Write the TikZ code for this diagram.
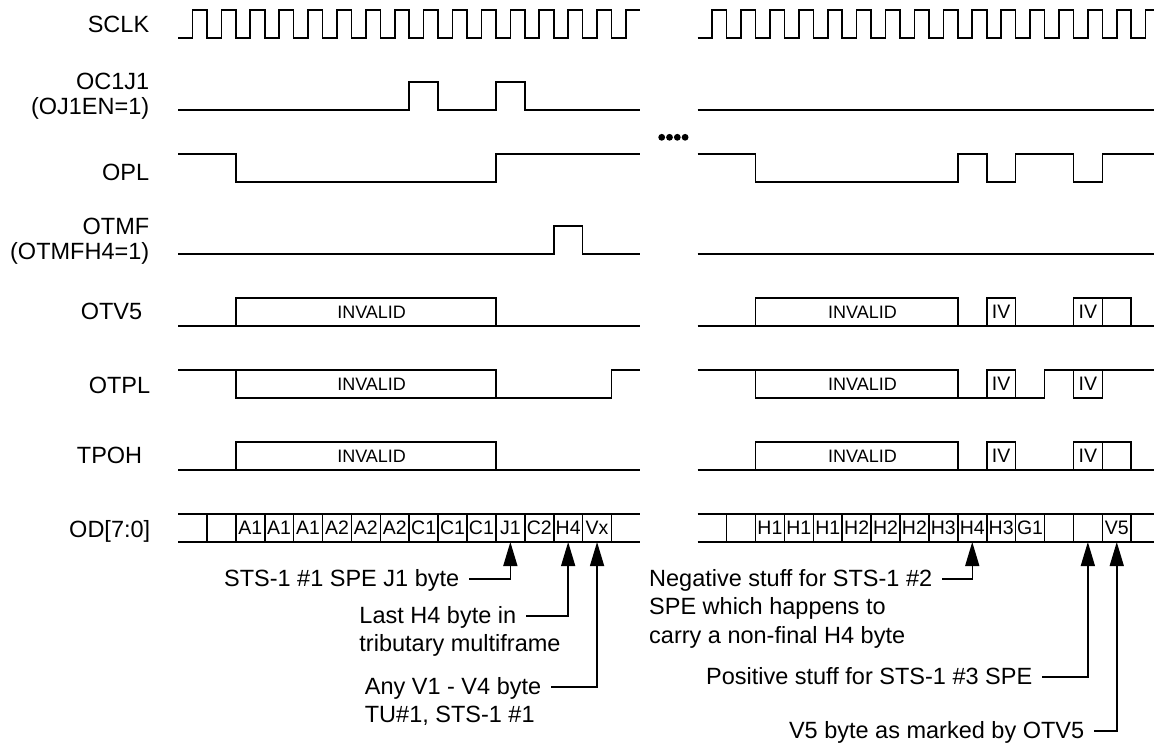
\documentclass[tikz,border=0pt]{standalone}
\usepackage{fontspec}
\setmainfont{Liberation Sans}
\usetikzlibrary{arrows.meta,positioning}

\def\rend{15.79}

\begin{document}
\begin{tikzpicture}[x=1pt, y=-1pt, line width=1.6pt,
  lab/.style={anchor=east, inner sep=0pt, align=right, font=\fontsize{23.5}{25}\selectfont},
  note/.style={inner xsep=9pt, inner ysep=3.5pt, text height=17pt, text depth=3pt, font=\fontsize{23.5}{25}\selectfont},
  cell/.style={inner sep=0pt, font=\fontsize{19.5}{20}\selectfont},
  pointer/.style={line width=1.5pt, -{Triangle[width=14pt,length=24pt]}},
  lrow/.style={shift={(178pt,{-(10+72*#1)*1pt})}, x=28.9pt, y=-28pt},
  rrow/.style={shift={(697.7pt,{-(10+72*#1)*1pt})}, x=28.9pt, y=-28pt}]

  \useasboundingbox (0,0) rectangle (1154,744);

  % signal names
  \node[lab] (sclk) at (150,24) {SCLK};
  \node[lab] (oc1j1) at (150,96) {OC1J1\\(OJ1EN=1)};
  \node[lab] (opl) at (150,172) {OPL};
  \node[lab] (otmf) at (150,241) {OTMF\\(OTMFH4=1)};
  \node[lab] (otv5) at (143,311) {OTV5};
  \node[lab] (otpl) at (151,385) {OTPL};
  \node[lab] (tpoh) at (143,455) {TPOH};
  \node[lab] (od) at (151,531) {OD[7:0]};

  % left half
  \begin{scope}[lrow=0]
    \draw (0,1) foreach \i in {0,...,14}{ -- (\i+.5,1) -- (\i+.5,0) -- (\i+1,0) -- (\i+1,1)} -- (15.5,1) -- (15.5,0) -- (16,0);
  \end{scope}
  \begin{scope}[lrow=1]
    \draw (0,1) -- (8,1) -- (8,0) -- (9,0) -- (9,1) -- (11,1) -- (11,0) -- (12,0) -- (12,1) -- (16,1);
  \end{scope}
  \begin{scope}[lrow=2]
    \draw (0,0) -- (2,0) -- (2,1) -- (11,1) -- (11,0) -- (16,0);
  \end{scope}
  \begin{scope}[lrow=3]
    \draw (0,1) -- (13,1) -- (13,0) -- (14,0) -- (14,1) -- (16,1);
  \end{scope}
  \begin{scope}[lrow=4]
    \draw (0,1) -- (16,1);
    \draw (2,0) rectangle (11,1);
    \node[cell, font=\fontsize{18}{20}\selectfont] (inv1) at (6.7,.5) {INVALID};
  \end{scope}
  \begin{scope}[lrow=5]
    \draw (0,0) -- (11,0) -- (11,1);
    \draw (2,0) -- (2,1) -- (15,1) -- (15,0) -- (16,0);
    \node[cell, font=\fontsize{18}{20}\selectfont] (inv2) at (6.7,.5) {INVALID};
  \end{scope}
  \begin{scope}[lrow=6]
    \draw (0,1) -- (16,1);
    \draw (2,0) rectangle (11,1);
    \node[cell, font=\fontsize{18}{20}\selectfont] (inv3) at (6.7,.5) {INVALID};
  \end{scope}
  \begin{scope}[lrow=7]
    \draw (0,0) -- (16,0) (0,1) -- (16,1);
    \foreach \i in {1,...,15} \draw (\i,0) -- (\i,1);
    \foreach \t [count=\i from 2] in {A1,A1,A1,A2,A2,A2,C1,C1,C1,J1,C2,H4,Vx}
      \node[cell] at (\i+.5,.5) {\t};
    \coordinate (j1) at (11.5,1);
    \coordinate (h4) at (13.5,1);
    \coordinate (vx) at (14.5,1);
  \end{scope}

  % gap
  \foreach \d in {0,...,3} \fill (661.7+7.8*\d,137.3) circle (3.4pt);

  % right half
  \begin{scope}[rrow=0]
    \draw (0,1) foreach \i in {0,...,14}{ -- (\i+.5,1) -- (\i+.5,0) -- (\i+1,0) -- (\i+1,1)} -- (15.5,1) -- (15.5,0) -- (\rend,0);
  \end{scope}
  \begin{scope}[rrow=1]
    \draw (0,1) -- (\rend,1);
  \end{scope}
  \begin{scope}[rrow=2]
    \draw (0,0) -- (2,0) -- (2,1) -- (9,1) -- (9,0) -- (10,0) -- (10,1) -- (11,1) -- (11,0) -- (13,0) -- (13,1) -- (14,1) -- (14,0) -- (\rend,0);
  \end{scope}
  \begin{scope}[rrow=3]
    \draw (0,1) -- (\rend,1);
  \end{scope}
  \begin{scope}[rrow=4]
    \draw (0,1) -- (\rend,1);
    \draw (2,0) rectangle (9,1) (10,0) rectangle (11,1) (13,0) rectangle (14,1);
    \draw (14,0) -- (15,0) -- (15,1);
    \node[cell, font=\fontsize{18}{20}\selectfont] (inv4) at (5.7,.5) {INVALID};
    \node[cell] at (10.5,.5) {IV};
    \node[cell] at (13.5,.5) {IV};
  \end{scope}
  \begin{scope}[rrow=5]
    \draw (0,0) -- (9,0) -- (9,1) -- (12,1) -- (12,0) -- (\rend,0);
    \draw (2,0) -- (2,1) -- (9,1) (10,0) rectangle (11,1) (13,0) rectangle (14,1);
    \node[cell, font=\fontsize{18}{20}\selectfont] (inv5) at (5.7,.5) {INVALID};
    \node[cell] at (10.5,.5) {IV};
    \node[cell] at (13.5,.5) {IV};
  \end{scope}
  \begin{scope}[rrow=6]
    \draw (0,1) -- (\rend,1);
    \draw (2,0) rectangle (9,1) (10,0) rectangle (11,1) (13,0) rectangle (14,1);
    \draw (14,0) -- (15,0) -- (15,1);
    \node[cell, font=\fontsize{18}{20}\selectfont] (inv6) at (5.7,.5) {INVALID};
    \node[cell] at (10.5,.5) {IV};
    \node[cell] at (13.5,.5) {IV};
  \end{scope}
  \begin{scope}[rrow=7]
    \draw (0,0) -- (\rend,0) (0,1) -- (\rend,1);
    \foreach \i in {1,...,15} \draw (\i,0) -- (\i,1);
    \foreach \t [count=\i from 2] in {H1,H1,H1,H2,H2,H2,H3,H4,H3,G1}
      \node[cell] at (\i+.5,.5) {\t};
    \node[cell] at (14.5,.5) {V5};
    \coordinate (ngs) at (9.5,1);
    \coordinate (pss) at (13.5,1);
    \coordinate (v5) at (14.5,1);
  \end{scope}

  % notes
  \node[note, anchor=east] (j1note) at (469,579) {STS-1 \#1 SPE J1 byte};
  \node[note, anchor=east] (h4note) at (526,616) {Last H4 byte in};
  \node[note, below right=0pt and 0pt of h4note.south west] (h4note2) {tributary multiframe};
  \node[note, anchor=east] (vxnote) at (551,687) {Any V1 - V4 byte};
  \node[note, below right=0pt and 0pt of vxnote.south west] (vxnote2) {TU\#1, STS-1 \#1};
  \node[note, anchor=east] (negnote) at (942,579) {Negative stuff for STS-1 \#2};
  \node[note, below right=0pt and 0pt of negnote.south west] (negnote2) {SPE which happens to};
  \node[note, below right=0pt and 0pt of negnote2.south west] (negnote3) {carry a non-final H4 byte};
  \node[note, anchor=east] (posnote) at (1042,677) {Positive stuff for STS-1 \#3 SPE};
  \node[note, anchor=east] (v5note) at (1094,731) {V5 byte as marked by OTV5};

  \draw[pointer] (j1note.east) -| (j1);
  \draw[pointer] (h4note.east) -| (h4);
  \draw[pointer] (vxnote.east) -| (vx);
  \draw[pointer] (negnote.east) -| (ngs);
  \draw[pointer] (posnote.east) -| (pss);
  \draw[pointer] (v5note.east) -| (v5);

\end{tikzpicture}
\end{document}
